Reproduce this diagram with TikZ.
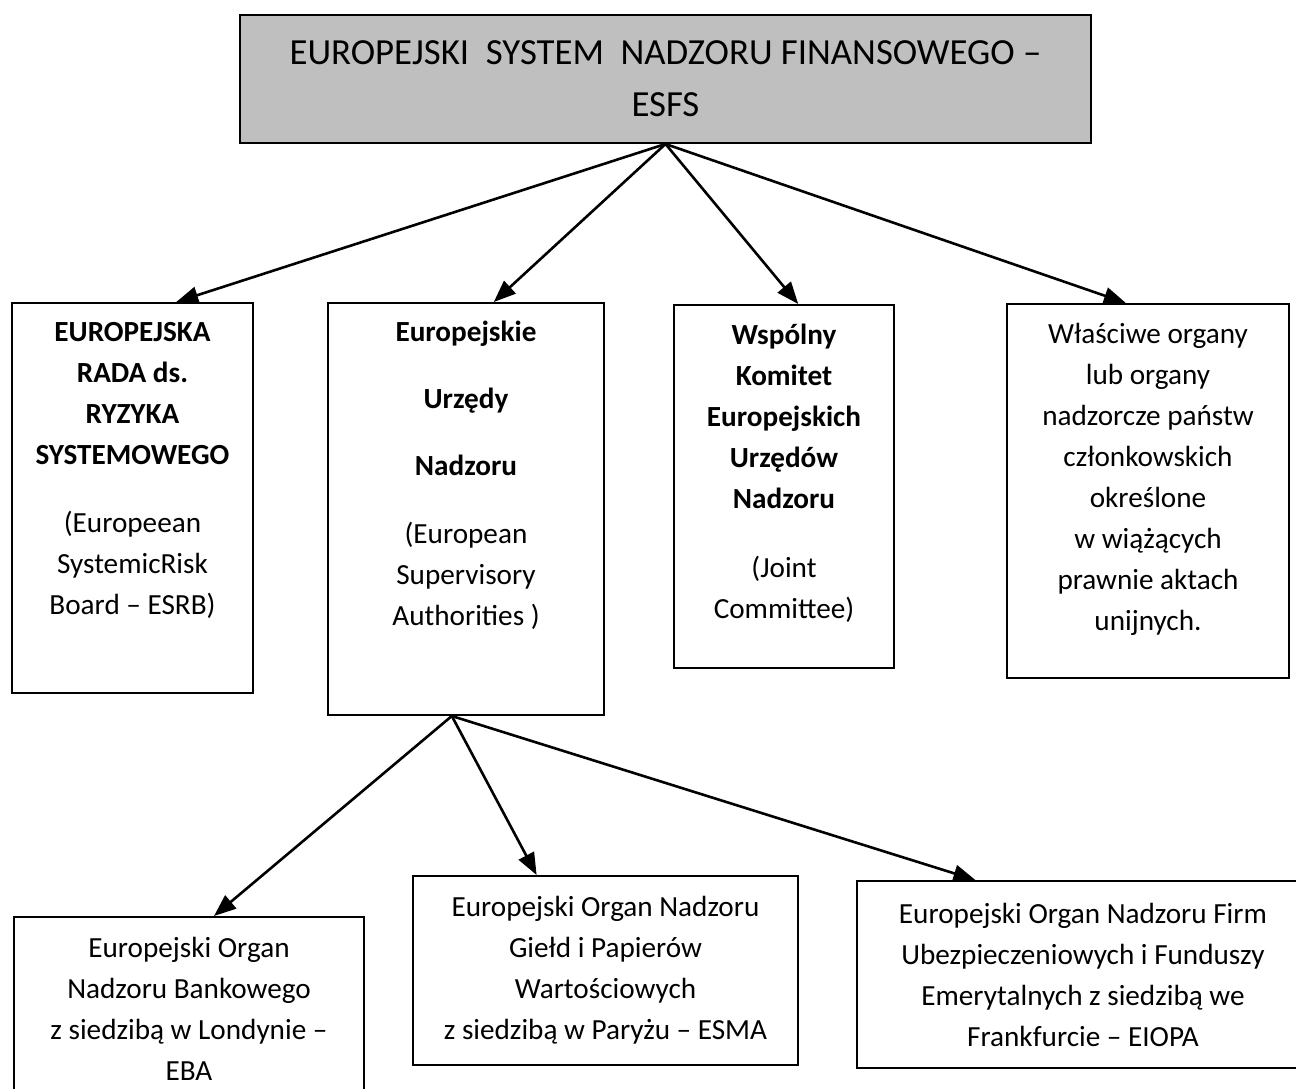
\documentclass[tikz,border=0pt]{standalone}
\usepackage{fontspec}
\setmainfont{Carlito}
\usepackage{tikz}
\usetikzlibrary{arrows.meta, positioning, calc}
\definecolor{szary}{HTML}{BFBFBF}

\begin{document}
\begin{tikzpicture}[
		x=0.5pt, y=-0.5pt,
		box/.style={rectangle, draw, line width=1pt, inner sep=0pt, anchor=north west, align=center, font=\fontsize{14.6pt}{20.5pt}\selectfont},
		head/.style={box, fill=szary, font=\fontsize{18.4pt}{26pt}\selectfont},
		txt/.style={align=center, inner sep=0pt, font=\fontsize{14.6pt}{20.5pt}\selectfont},
		arrow/.style={-{Triangle[length=11pt, width=8.5pt]}, line width=1.3pt}
	]

	% 0. Obszar rysunku
	\clip (0,0) rectangle (1296,1088);

	% 1. Blok nadrzedny ESFS
	\node[head, minimum width=425.5pt, minimum height=64pt] (esfs) at (239,14)
	{EUROPEJSKI~~SYSTEM~~NADZORU FINANSOWEGO –\\ESFS};

	% 2. Cztery bloki srodkowe
	\node[box, minimum width=120.5pt, minimum height=195pt] (esrb) at (11,302) {};
	\node[box, minimum width=138pt, minimum height=206pt] (esa) at (327,302) {};
	\node[box, minimum width=110pt, minimum height=181.5pt] (jc) at (673,304) {};
	\node[box, minimum width=141pt, minimum height=187pt] (nca) at (1006,303) {};

	% Teksty w blokach srodkowych (wyrownane do gory)
	\node[txt] (esrbtxt) at ($(esrb.north)+(0,168)$)
	{\textbf{EUROPEJSKA}\\\textbf{RADA ds.}\\\textbf{RYZYKA}\\\textbf{SYSTEMOWEGO}\\[13.5pt]
		(Europeean\\SystemicRisk\\Board – ESRB)};
	\node[txt] (esatxt) at ($(esa.north)+(0,173)$)
	{\textbf{Europejskie}\\[13pt]\textbf{Urzędy}\\[13pt]\textbf{Nadzoru}\\[13.5pt]
		(European\\Supervisory\\Authorities )};
	\node[txt] (jctxt) at ($(jc.north)+(0,169)$)
	{\textbf{Wspólny}\\\textbf{Komitet}\\\textbf{Europejskich}\\\textbf{Urzędów}\\\textbf{Nadzoru}\\[14pt]
		(Joint\\Committee)};
	\node[txt] (ncatxt) at ($(nca.north)+(0,176)$)
	{Właściwe organy\\lub organy\\nadzorcze państw\\członkowskich\\określone\\w wiążących\\prawnie aktach\\unijnych.};

	% 3. Trzy bloki dolne
	\node[box, minimum width=175pt, minimum height=91.5pt] (eba) at (13,916)
	{Europejski Organ\\Nadzoru Bankowego\\z siedzibą w Londynie –\\EBA};
	\node[box, minimum width=192.5pt, minimum height=94.5pt] (esma) at (412,875)
	{Europejski Organ Nadzoru\\Giełd i Papierów\\Wartościowych\\z siedzibą w Paryżu – ESMA};
	\node[box, minimum width=226pt, minimum height=93.5pt] (eiopa) at (856,880)
	{Europejski Organ Nadzoru Firm\\Ubezpieczeniowych i Funduszy\\Emerytalnych z siedzibą we\\Frankfurcie – EIOPA};

	% 4. Strzalki z ESFS
	\draw[arrow] (esfs.south) -- ($(esrb.north west)!0.68!(esrb.north east)$);
	\draw[arrow] (esfs.south) -- ($(esa.north west)!0.60!(esa.north east)$);
	\draw[arrow] (esfs.south) -- ($(jc.north west)!0.564!(jc.north east)$);
	\draw[arrow] (esfs.south) -- ($(nca.north west)!0.422!(nca.north east)$);

	% 5. Strzalki z Europejskich Urzedow Nadzoru
	\coordinate (esafoot) at ($(esa.south west)!0.449!(esa.south east)$);
	\draw[arrow] (esafoot) -- ($(eba.north west)!0.571!(eba.north east)$);
	\draw[arrow] (esafoot) -- ($(esma.north west)!0.322!(esma.north east)$);
	\draw[arrow] (esafoot) -- ($(eiopa.north west)!0.263!(eiopa.north east)$);

\end{tikzpicture}
\end{document}
